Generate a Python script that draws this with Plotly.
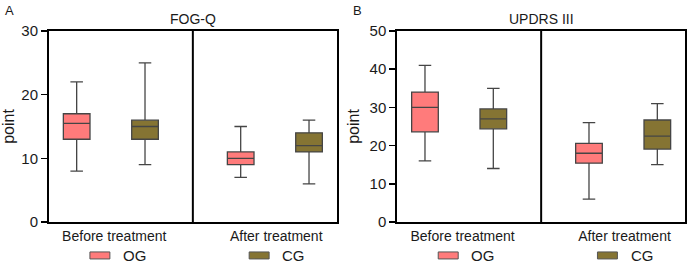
import plotly.graph_objects as go

# ---------------- data ----------------
groups = ["OG", "CG"]
phases = ["Before treatment", "After treatment"]
colors = {"OG": "#FF7B7B", "CG": "#857433"}

# FOG-Q  (values: before, after)
fog_q1 = {"OG": [13, 9], "CG": [13, 11]}
fog_med = {"OG": [15.5, 10], "CG": [15, 12]}
fog_q3 = {"OG": [17, 11], "CG": [16, 14]}
fog_lo = {"OG": [8, 7], "CG": [9, 6]}
fog_hi = {"OG": [22, 15], "CG": [25, 16]}

# UPDRS III
upd_q1 = {"OG": [23.6, 15.4], "CG": [24.4, 19.1]}
upd_med = {"OG": [30, 18], "CG": [27, 22.5]}
upd_q3 = {"OG": [34, 20.6], "CG": [29.6, 26.7]}
upd_lo = {"OG": [16, 6], "CG": [14, 15]}
upd_hi = {"OG": [41, 26], "CG": [35, 31]}

panels = [
    {"title": "FOG-Q", "letter": "A", "ymax": 30,
     "q1": fog_q1, "med": fog_med, "q3": fog_q3, "lo": fog_lo, "hi": fog_hi},
    {"title": "UPDRS III", "letter": "B", "ymax": 50,
     "q1": upd_q1, "med": upd_med, "q3": upd_q3, "lo": upd_lo, "hi": upd_hi},
]

# ---------------- layout constants ----------------
W, H = 690, 264
ML, MR, MT, MB = 49, 5, 30.7, 42
PW, PH = W - ML - MR, H - MT - MB


def px(xpix):
    return (xpix - ML) / PW


def py(ypix):
    return (H - MB - ypix) / PH


group_offset = {"OG": 0.0, "CG": 1.0}
phase_base = [0.0, 2.4]
xrange_ = [-0.405, 3.805]
divider = (phase_base[0] + 1.0 + phase_base[1]) / 2
label_pos = [0.55, 2.92]
x_domains = [[px(49), px(336.7)], [px(397.3), px(685)]]
FONT = "Arial, Liberation Sans, Helvetica, sans-serif"
TXT = "#1a1a1a"

fig = go.Figure()
shapes = []
annotations = []

for i, p in enumerate(panels):
    xa = "x" if i == 0 else f"x{i+1}"
    ya = "y" if i == 0 else f"y{i+1}"
    for g in groups:
        fig.add_trace(go.Box(
            x=[b + group_offset[g] for b in phase_base],
            q1=p["q1"][g], median=p["med"][g], q3=p["q3"][g],
            lowerfence=p["lo"][g], upperfence=p["hi"][g],
            width=0.39, whiskerwidth=0.47,
            fillcolor=colors[g],
            line=dict(color="#454545", width=1.3),
            boxpoints=False, name=g, showlegend=False,
            xaxis=xa, yaxis=ya, hoverinfo="skip",
        ))
    # divider between phases
    shapes.append(dict(type="line", xref=xa, yref=f"{ya} domain",
                       x0=divider, x1=divider, y0=0, y1=1,
                       line=dict(color="black", width=2)))
    # custom legend
    for g, sx, tx in [("OG", 0.34, 0.645), ("CG", 2.67, 2.98)]:
        shapes.append(dict(type="rect", xref=xa, yref="paper",
                           x0=sx - 0.146, x1=sx + 0.146,
                           y0=py(259), y1=py(252),
                           fillcolor=colors[g],
                           line=dict(color="#555555", width=1)))
        annotations.append(dict(text=g, xref=xa, yref="paper", x=tx,
                                y=py(256), xanchor="left",
                                yanchor="middle", showarrow=False,
                                font=dict(size=15, color=TXT, family=FONT)))
    # panel title
    annotations.append(dict(text=p["title"], xref=f"{xa} domain", yref="paper",
                            x=0.5, y=py(19), xanchor="center",
                            yanchor="middle", showarrow=False,
                            font=dict(size=14, color=TXT, family=FONT)))
    # panel letter
    annotations.append(dict(text=p["letter"], xref="paper", yref="paper",
                            x=px(3 + 348 * i), y=py(10.5),
                            xanchor="left", yanchor="middle", showarrow=False,
                            font=dict(size=13, color=TXT, family=FONT)))

    axis_common = dict(showline=True, mirror=True, linecolor="black",
                       linewidth=2, showgrid=False, zeroline=False,
                       automargin=False)
    fig.update_layout(**{
        ("xaxis" if i == 0 else f"xaxis{i+1}"): dict(
            domain=x_domains[i], range=xrange_, anchor=ya,
            tickvals=label_pos, ticktext=phases, ticks="",
            tickfont=dict(size=14, color=TXT, family=FONT),
            **axis_common),
        ("yaxis" if i == 0 else f"yaxis{i+1}"): dict(
            domain=[0, 1], range=[0, p["ymax"]], anchor=xa, dtick=10,
            ticks="outside", ticklen=6, tickwidth=1.5, tickcolor="black",
            tickfont=dict(size=15, color=TXT, family=FONT),
            title=dict(text="point", standoff=6,
                       font=dict(size=16, color=TXT, family=FONT)),
            **axis_common),
    })

fig.update_layout(
    width=W, height=H,
    margin=dict(l=ML, r=MR, t=MT, b=MB, autoexpand=False),
    paper_bgcolor="white", plot_bgcolor="white",
    shapes=shapes, annotations=annotations,
    font=dict(family=FONT),
)

fig.write_html("out.html",
               config={"displayModeBar": False, "staticPlot": True},
               post_script="document.body.style.margin='0';"
                           "document.body.style.padding='0';")
